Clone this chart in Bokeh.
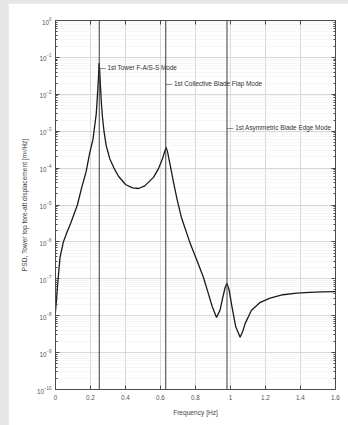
from bokeh.plotting import figure
from bokeh.layouts import column
from bokeh.models import (LogAxis, LinearAxis, FixedTicker, NumeralTickFormatter,
                          Span, Label, LogTickFormatter, CustomJSTickFormatter)
from bokeh.embed import file_html
from bokeh.resources import INLINE

freq = [0.0, 0.005, 0.01, 0.015, 0.026, 0.045, 0.065, 0.087, 0.105, 0.125, 0.15,
        0.175, 0.195, 0.214, 0.225, 0.233, 0.24, 0.245, 0.249, 0.252, 0.256, 0.262,
        0.268, 0.277, 0.29, 0.31, 0.334, 0.36, 0.40, 0.44, 0.475, 0.51, 0.56, 0.59,
        0.61, 0.622, 0.632, 0.64, 0.657, 0.675, 0.695, 0.72, 0.77, 0.81, 0.845, 0.87,
        0.895, 0.92, 0.94, 0.955, 0.97, 0.98, 0.992, 1.008, 1.03, 1.055, 1.07, 1.084,
        1.12, 1.17, 1.226, 1.30, 1.378, 1.45, 1.52, 1.6]
psd = [1.3e-8, 2.5e-8, 5e-8, 1e-7, 3.8e-7, 1e-6, 1.8e-6, 3.2e-6, 5.5e-6, 1e-5, 3e-5,
       8e-5, 2.5e-4, 6e-4, 1.5e-3, 3e-3, 1e-2, 2.5e-2, 7e-2, 5e-2, 2e-2, 6e-3,
       2.5e-3, 1e-3, 4e-4, 1.8e-4, 1e-4, 6e-5, 3.6e-5, 2.9e-5, 2.8e-5, 3.3e-5, 5.6e-5, 1e-4,
       1.7e-4, 2.6e-4, 3.6e-4, 2.8e-4, 1.1e-4, 4e-5, 1.4e-5, 4.5e-6, 9e-7, 3e-7, 1.1e-7, 4.5e-8,
       1.8e-8, 9e-9, 1.4e-8, 3e-8, 6e-8, 7.5e-8, 5e-8, 1.8e-8, 5e-9, 2.6e-9, 3.8e-9, 6.2e-9,
       1.4e-8, 2.3e-8, 3e-8, 3.7e-8, 4.1e-8, 4.3e-8, 4.4e-8, 4.5e-8]

mode_freq = [0.25, 0.63, 0.98]
mode_label = ["\u2014 1st Tower F-A/S-S Mode",
              "\u2014 1st Collective Blade Flap Mode",
              "\u2014 1st Asymmetric Blade Edge Mode"]
mode_label_y = [0.052, 0.02, 1.25e-3]

x_ticks = [0, 0.2, 0.4, 0.6, 0.8, 1.0, 1.2, 1.4, 1.6]
y_ticks = [10.0 ** e for e in range(-10, 1)]
y_minor = [m * 10.0 ** e for e in range(-10, 0) for m in range(2, 10)]

FONT = "Liberation Sans"
AX = "#4a4a4a"

p = figure(width=340, height=422, y_axis_type="log", x_range=(0, 1.6),
           y_range=(1e-10, 1), output_backend="svg", toolbar_location=None,
           min_border_left=47, min_border_right=13, min_border_top=17,
           min_border_bottom=36, background_fill_color="white",
           border_fill_color="white", outline_line_color=AX,
           outline_line_width=1, margin=(3, 0, 0, 8))

# grids
p.xgrid.ticker = FixedTicker(ticks=x_ticks)
p.xgrid.grid_line_color = "#d8d8d8"
p.ygrid.ticker = FixedTicker(ticks=y_ticks, minor_ticks=y_minor)
p.ygrid.grid_line_color = "#d8d8d8"
p.ygrid.minor_grid_line_color = "#ececec"
p.ygrid.minor_grid_line_dash = "1 1"

blank = CustomJSTickFormatter(code="return ' ';")

def style_axis(ax, show_labels=True):
    ax.axis_line_color = AX
    ax.major_tick_line_color = AX
    ax.minor_tick_line_color = AX
    ax.major_tick_in = 4
    ax.major_tick_out = 0
    ax.minor_tick_in = 2
    ax.minor_tick_out = 0
    ax.major_label_text_font = FONT
    ax.major_label_text_font_size = "6.3px"
    ax.major_label_text_color = "#555555"
    ax.axis_label_text_font = FONT
    ax.axis_label_text_font_size = "6.6px"
    ax.axis_label_text_font_style = "normal"
    ax.axis_label_text_color = "#444444"
    if not show_labels:
        ax.formatter = blank
        ax.major_label_standoff = 0

xa = p.xaxis[0]
xa.ticker = FixedTicker(ticks=x_ticks, minor_ticks=[])
xa.formatter = NumeralTickFormatter(format="0.[0]")
xa.axis_label = "Frequency [Hz]"
xa.major_label_standoff = 5
xa.axis_label_standoff = 6
style_axis(xa)

ya = p.yaxis[0]
ya.ticker = FixedTicker(ticks=y_ticks, minor_ticks=y_minor)
ya.formatter = LogTickFormatter()
ya.axis_label = "PSD, Tower top fore-aft displacement [m\u00b2/Hz]"
ya.major_label_standoff = 4
ya.axis_label_standoff = 6
style_axis(ya)

top = LinearAxis(ticker=FixedTicker(ticks=x_ticks, minor_ticks=[]))
style_axis(top, show_labels=False)
p.add_layout(top, "above")
right = LogAxis(ticker=FixedTicker(ticks=y_ticks, minor_ticks=y_minor))
style_axis(right, show_labels=False)
p.add_layout(right, "right")

for f in mode_freq:
    p.add_layout(Span(location=f, dimension="height", line_color="#3a3a3a",
                      line_width=1))

p.line(freq, psd, line_color="#1a1a1a", line_width=1.3)

for f, t, yv in zip(mode_freq, mode_label, mode_label_y):
    p.add_layout(Label(x=f, y=yv, text=t, text_font=FONT, text_font_size="6.4px",
                       text_color="#333333", text_baseline="middle",
                       text_align="left", x_offset=0))

page = column(p, width=348, height=425,
              styles={"background-color": "#e6e6e6"})

html = file_html(page, INLINE)
html = html.replace("<body>", '<body style="margin:0;background:#e6e6e6;">', 1)
open("out.html", "w").write(html)
